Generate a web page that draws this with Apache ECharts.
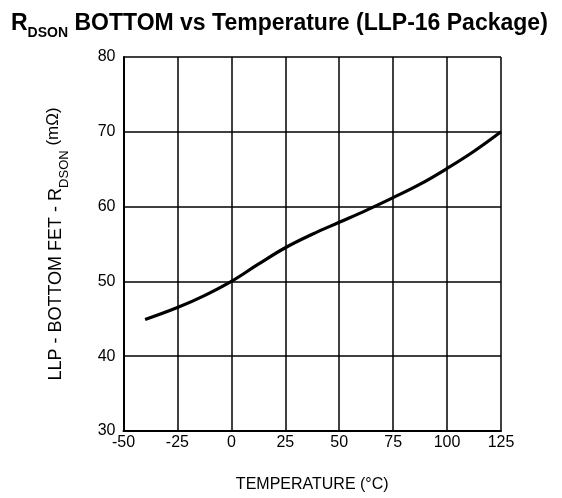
<!DOCTYPE html>
<html><head><meta charset="utf-8">
<script src="https://cdn.jsdelivr.net/npm/echarts@6/dist/echarts.min.js"></script>
<style>html,body{margin:0;padding:0;background:#fff}#c{width:562px;height:498px}</style>
</head><body><div id="c"></div>
<script>
const temperature = [-40, -25, -12.5, 0, 12.5, 25, 37.5, 50, 62.5, 75, 87.5, 100, 112.5, 125];
const rdson = [44.9, 46.5, 48.1, 50.0, 52.3, 54.5, 56.3, 57.9, 59.5, 61.2, 63.0, 65.1, 67.4, 70.0];
const xTicks = [-50, -25, 0, 25, 50, 75, 100, 125];
const yTicks = [30, 40, 50, 60, 70, 80];

const chart = echarts.init(document.getElementById('c'));
const font = '"Liberation Sans", Arial, sans-serif';
chart.setOption({
  animation: false,
  title: {
    left: 6, top: 4,
    text: '{r|R}{s|DSON}{r| BOTTOM vs Temperature (LLP-16 Package)}',
    textStyle: {
      rich: {
        r: {fontFamily: font, fontWeight: 'bold', fontSize: 23, color: '#000', verticalAlign: 'bottom', lineHeight: 26},
        s: {fontFamily: font, fontWeight: 'bold', fontSize: 14, color: '#000', verticalAlign: 'bottom', lineHeight: 18, padding: [0,0,-5,0]}
      }
    }
  },
  grid: {left: 123.5, top: 57, right: 61, bottom: 64, show: false},
  xAxis: {
    type: 'value', min: -50, max: 125, interval: 25,
    name: 'TEMPERATURE (°C)', nameLocation: 'middle', nameGap: 46,
    nameTextStyle: {fontFamily: font, fontSize: 16, color: '#000'},
    axisLine: {show: true, onZero: false, lineStyle: {color: '#000', width: 2}},
    axisTick: {show: false},
    axisLabel: {fontFamily: font, fontSize: 16, color: '#000', margin: 4},
    splitLine: {show: true, lineStyle: {color: '#000', width: 1.5}}
  },
  yAxis: {
    type: 'value', min: 30, max: 80, interval: 10,
    name: '{a|LLP - BOTTOM FET - R}{b|DSON}{c| (mΩ)}', nameLocation: 'middle', nameGap: 58,
    nameTextStyle: {
      rich: {
        a: {fontFamily: font, fontSize: 18, color: '#000', verticalAlign: 'bottom', lineHeight: 22},
        b: {fontFamily: font, fontSize: 13, color: '#000', verticalAlign: 'bottom', lineHeight: 16, padding: [0,0,-5,0]},
        c: {fontFamily: font, fontSize: 17, color: '#000', verticalAlign: 'bottom', lineHeight: 22, padding: [0,0,4,0]}
      }
    },
    axisLine: {show: true, onZero: false, lineStyle: {color: '#000', width: 2}},
    axisTick: {show: false},
    axisLabel: {fontFamily: font, fontSize: 16, color: '#000', margin: 8},
    splitLine: {show: true, lineStyle: {color: '#000', width: 1.5}}
  },
  series: [{
    type: 'line', smooth: 0.4, showSymbol: false,
    data: temperature.map((t, i) => [t, rdson[i]]),
    lineStyle: {color: '#000', width: 3.2}
  }]
});
</script>
</body></html>
